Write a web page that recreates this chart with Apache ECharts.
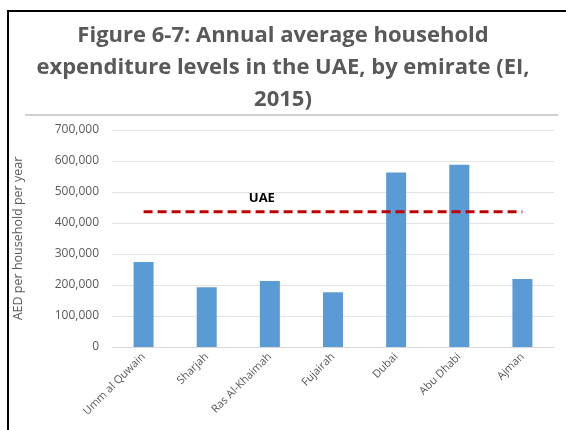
<!DOCTYPE html>
<html lang="en">
<head>
    <meta charset="utf-8">
    <title>Household expenditure by emirate</title>
    <script src="https://cdn.jsdelivr.net/npm/echarts@6/dist/echarts.min.js"></script>
    <style>
        html, body { margin: 0; padding: 0; background: #fff; }
        #frame { position: absolute; left: 7px; top: 10px; width: 559px; height: 420px;
                 border-left: 2px solid #000; border-top: 2px solid #000; }
        #rule { position: absolute; left: 25px; top: 114px; width: 533px; height: 2px; background: #d0d0d0; }
        #chart { position: absolute; left: 0; top: 0; width: 566px; height: 430px; }
    </style>
</head>
<body>
<div id="frame"></div>
<div id="rule"></div>
<div id="chart"></div>
<script type="text/javascript">
    const emirates = ['Umm al Quwain', 'Sharjah', 'Ras Al-Khaimah', 'Fujairah', 'Dubai', 'Abu Dhabi', 'Ajman'];
    const expenditure = [274000, 193000, 213000, 177000, 563000, 588000, 219000];
    const uaeAverage = 436000;
    const uaeLine = emirates.map(function () { return uaeAverage; });

    const chart = echarts.init(document.getElementById('chart'));
    const option = {
        animation: false,
        title: {
            text: 'Figure 6-7: Annual average household\nexpenditure levels in the UAE, by emirate (EI,\n2015)',
            left: 'center',
            top: 15,
            textStyle: {
                fontFamily: 'Open Sans',
                fontWeight: 'bold',
                fontSize: 22,
                lineHeight: 32,
                color: '#595959'
            }
        },
        grid: {
            left: 112,
            right: 12,
            top: 130,
            bottom: 83
        },
        xAxis: {
            type: 'category',
            data: emirates,
            axisTick: { show: false },
            axisLine: { lineStyle: { color: '#d9d9d9' } },
            axisLabel: {
                rotate: 45,
                interval: 0,
                margin: 8,
                fontFamily: 'Open Sans',
                fontSize: 11,
                color: '#595959'
            }
        },
        yAxis: {
            type: 'value',
            min: 0,
            max: 700000,
            interval: 100000,
            name: 'AED per household per year',
            nameLocation: 'middle',
            nameGap: 87,
            nameTextStyle: { fontFamily: 'Open Sans', fontSize: 12.5, color: '#595959' },
            axisLabel: {
                margin: 13,
                fontFamily: 'Open Sans',
                fontSize: 12,
                color: '#595959',
                formatter: function (v) { return v.toLocaleString('en-US'); }
            },
            splitLine: { lineStyle: { color: '#e3e3e3' } }
        },
        series: [
            {
                type: 'bar',
                data: expenditure,
                barWidth: 20,
                itemStyle: { color: '#5b9bd5' }
            },
            {
                type: 'line',
                data: uaeLine,
                symbol: 'none',
                lineStyle: { color: '#c00000', width: 3, type: [9, 5] },
                markPoint: {
                    symbol: 'rect',
                    symbolSize: 1,
                    itemStyle: { color: 'transparent' },
                    label: {
                        show: true,
                        formatter: 'UAE',
                        position: 'top',
                        offset: [-8, -2],
                        fontFamily: 'Open Sans',
                        fontWeight: 'bold',
                        fontSize: 13,
                        color: '#000'
                    },
                    data: [{ coord: [2, uaeAverage] }]
                }
            }
        ]
    };
    chart.setOption(option);
</script>
</body>
</html>
